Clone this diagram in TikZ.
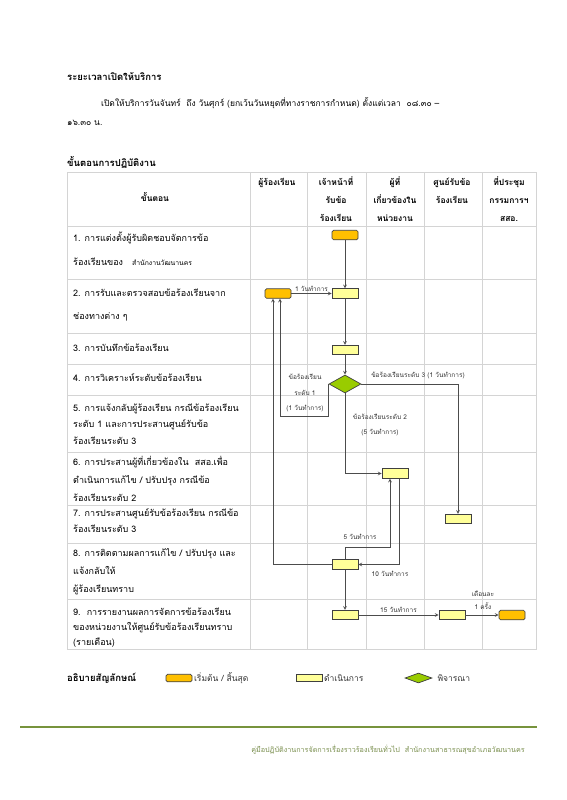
\documentclass[tikz,border=0pt]{standalone}
\usepackage{fontspec}
\setmainfont{Loma}[Script=Thai]
\usepackage{xcolor}
\usetikzlibrary{calc, shapes.geometric, positioning}

\definecolor{startfill}{HTML}{FFC000}
\definecolor{stepfill}{HTML}{FFFF99}
\definecolor{decfill}{HTML}{99CC00}
\definecolor{gridgray}{HTML}{D4D4D4}
\definecolor{footgreen}{HTML}{77933C}

\tikzset{
  startbox/.style={draw=black!75, fill=startfill, rounded corners=1.5pt, minimum width=26pt, minimum height=9.5pt, inner sep=0pt, line width=0.7pt},
  stepbox/.style={draw=black!75, fill=stepfill, minimum width=26pt, minimum height=9.5pt, inner sep=0pt, line width=0.7pt},
  decbox/.style={diamond, draw=black!75, fill=decfill, minimum width=32pt, minimum height=18pt, inner sep=0pt, aspect=1.8, line width=0.7pt},
  flow/.style={->, draw=black!70, line width=0.7pt},
  rowtext/.style={anchor=base west, align=left, inner sep=0pt, font=\fontsize{9}{17}\selectfont},
  headtext/.style={anchor=base, align=center, inner sep=0pt, font=\bfseries\fontsize{8.5}{18}\selectfont},
  daylabel/.style={inner sep=0pt, align=center, font=\fontsize{6.5}{9}\selectfont, text=black!80},
  legendtext/.style={anchor=west, inner sep=0pt, font=\fontsize{8.5}{10}\selectfont, text=black!80},
}

\begin{document}
\begin{tikzpicture}[x=1pt, y=-1pt, >=stealth]

    % =================================================================
    % 1. พื้นหน้ากระดาษ
    % =================================================================
    \fill[white] (0,0) rectangle (566,800);
    \useasboundingbox (0,0) rectangle (566,800);

    % =================================================================
    % 2. ข้อความส่วนบน
    % =================================================================
    \node[anchor=base west, inner sep=0pt, font=\bfseries\fontsize{9.5}{10}\selectfont] (ttl) at (67,81) {ระยะเวลาเปิดให้บริการ};
    \node[anchor=base west, inner sep=0pt, font=\fontsize{8.5}{10}\selectfont] (par1) at (101,106) {เปิดให้บริการวันจันทร์\ \ ถึง วันศุกร์ (ยกเว้นวันหยุดที่ทางราชการกำหนด) ตั้งแต่เวลา\ \ ๐๘.๓๐ –};
    \node[anchor=base west, inner sep=0pt, font=\fontsize{8.5}{10}\selectfont] (par2) at (67,125) {๑๖.๓๐ น.};
    \node[anchor=base west, inner sep=0pt, font=\bfseries\fontsize{9.5}{10}\selectfont] (ttl2) at (67,166) {ขั้นตอนการปฏิบัติงาน};

    % =================================================================
    % 3. ตาราง
    % =================================================================
    \draw[gridgray, line width=0.6pt] (67,172) rectangle (536,649);
    \draw[gridgray, line width=0.6pt]
        (67,226) -- (536,226) (67,279) -- (536,279) (67,333) -- (536,333)
        (67,364) -- (536,364) (67,395) -- (536,395) (67,452) -- (536,452)
        (67,505) -- (536,505) (67,543) -- (536,543) (67,599) -- (536,599);
    \draw[gridgray, line width=0.6pt]
        (250,172) -- (250,649) (307,172) -- (307,649) (366,172) -- (366,649)
        (424,172) -- (424,649) (482,172) -- (482,649);

    % หัวตาราง (จุดวางคือบรรทัดสุดท้าย)
    \node[headtext] (h1) at (155,201) {ขั้นตอน};
    \node[headtext] (h2) at (277,185) {ผู้ร้องเรียน};
    \node[headtext] (h3) at (336,221) {เจ้าหน้าที่\\รับข้อ\\ร้องเรียน};
    \node[headtext] (h4) at (395,221) {ผู้ที่\\เกี่ยวข้องใน\\หน่วยงาน};
    \node[headtext] (h5) at (452,203) {ศูนย์รับข้อ\\ร้องเรียน};
    \node[headtext] (h6) at (509,221) {ที่ประชุม\\กรรมการฯ\\สสอ.};

    % ขั้นตอน 1-9
    \node[rowtext, font=\fontsize{9}{24}\selectfont] (s1t) at (73,265) {1. การแต่งตั้งผู้รับผิดชอบจัดการข้อ\\ร้องเรียนของ\ \ \ {\fontsize{6.8}{7}\selectfont สำนักงานวัฒนานคร}};
    \node[rowtext, font=\fontsize{9}{23}\selectfont] (s2t) at (73,319) {2. การรับและตรวจสอบข้อร้องเรียนจาก\\ช่องทางต่าง ๆ};
    \node[rowtext] (s3t) at (73,351) {3. การบันทึกข้อร้องเรียน};
    \node[rowtext] (s4t) at (73,381) {4. การวิเคราะห์ระดับข้อร้องเรียน};
    \node[rowtext, font=\fontsize{9}{16.5}\selectfont] (s5t) at (73,444) {5. การแจ้งกลับผู้ร้องเรียน กรณีข้อร้องเรียน\\ระดับ 1 และการประสานศูนย์รับข้อ\\ร้องเรียนระดับ 3};
    \node[rowtext, font=\fontsize{9}{18}\selectfont] (s6t) at (73,501) {6. การประสานผู้ที่เกี่ยวข้องใน\ \ สสอ.เพื่อ\\ดำเนินการแก้ไข / ปรับปรุง กรณีข้อ\\ร้องเรียนระดับ 2};
    \node[rowtext, font=\fontsize{9}{16}\selectfont] (s7t) at (73,532) {7. การประสานศูนย์รับข้อร้องเรียน กรณีข้อ\\ร้องเรียนระดับ 3};
    \node[rowtext, font=\fontsize{9}{18}\selectfont] (s8t) at (73,592) {8. การติดตามผลการแก้ไข / ปรับปรุง และ\\แจ้งกลับให้\\ผู้ร้องเรียนทราบ};
    \node[rowtext, font=\fontsize{9}{15}\selectfont] (s9t) at (73,645) {9.\ \ การรายงานผลการจัดการข้อร้องเรียน\\ของหน่วยงานให้ศูนย์รับข้อร้องเรียนทราบ\\(รายเดือน)};

    % =================================================================
    % 4. ผังงาน
    % =================================================================
    \node[startbox] (st1) at (345,235) {};
    \node[startbox] (cp2) at (278,293.5) {};
    \node[stepbox] (of2) at (345,293.5) {};
    \node[stepbox] (of3) at (345,350) {};
    \node[decbox] (dc4) at (345,384) {};
    \node[stepbox] (rl6) at (395,473.5) {};
    \node[stepbox] (cn7) at (458,519) {};
    \node[stepbox] (of8) at (345,564.5) {};
    \node[stepbox] (of9) at (345,615) {};
    \node[stepbox] (cn9) at (452,615) {};
    \node[startbox] (mt9) at (512,615) {};

    \draw[flow] (st1) -- (of2);
    \draw[flow] (cp2) -- node[daylabel, above=2pt] (lb2) {1 วันทำการ} (of2);
    \draw[flow] (of2) -- (of3);
    \draw[flow] (of3) -- (dc4);

    % ระดับ 1 กลับไปผู้ร้องเรียน
    \draw[flow] (dc4.west) -- ++(0,32) -| ([xshift=2pt]cp2.south);
    \node[daylabel, font=\fontsize{6.5}{15.5}\selectfont] (lb1) at (305,393) {ข้อร้องเรียน\\ระดับ 1\\(1 วันทำการ)};

    % ระดับ 3 ไปศูนย์รับข้อร้องเรียน
    \draw[flow] (dc4.east) -| (cn7.north);
    \node[daylabel] (lb3) at (418,375) {ข้อร้องเรียนระดับ 3 (1 วันทำการ)};

    % ระดับ 2 ไปผู้ที่เกี่ยวข้อง
    \draw[flow] (dc4.south) |- (rl6.west);
    \node[daylabel, font=\fontsize{6.5}{15}\selectfont] (lb4) at (380,424.5) {ข้อร้องเรียนระดับ 2\\(5 วันทำการ)};

    % ติดตามผล
    \draw[flow] ([xshift=4pt]rl6.south) |- (of8.east);
    \node[daylabel] (lb5) at (390,574) {10 วันทำการ};
    \draw[flow] (of8.north) -- ++(0,-12) -| ([xshift=-5pt]rl6.south);
    \node[daylabel] (lb6) at (360,537) {5 วันทำการ};
    \draw[flow] (of8.west) -| ([xshift=-5pt]cp2.south);

    % รายงาน
    \draw[flow] (of8) -- (of9);
    \draw[flow] (of9) -- node[daylabel, above=2pt] (lb7) {15 วันทำการ} (cn9);
    \draw[flow] (cn9) -- (mt9);
    \node[daylabel, font=\fontsize{6.5}{13}\selectfont] (lb8) at (483,600) {เดือนละ\\1 ครั้ง};

    % =================================================================
    % 5. คำอธิบายสัญลักษณ์
    % =================================================================
    \node[anchor=base west, inner sep=0pt, font=\bfseries\fontsize{9.5}{10}\selectfont] (lgd) at (67,681) {อธิบายสัญลักษณ์};
    \node[startbox, minimum height=7.5pt] (lg1) at (179,678) {};
    \node[legendtext] (lg1t) at ([xshift=1.5pt]lg1.east) {เริ่มต้น / สิ้นสุด};
    \node[stepbox, minimum height=7.5pt] (lg2) at (309,678) {};
    \node[legendtext] (lg2t) at ([xshift=1.5pt]lg2.east) {ดำเนินการ};
    \node[decbox, minimum width=27pt, minimum height=10pt] (lg3) at (418.5,678) {};
    \node[legendtext] (lg3t) at ([xshift=5pt]lg3.east) {พิจารณา};

    % =================================================================
    % 6. ท้ายหน้า
    % =================================================================
    \draw[footgreen, line width=1.5pt] (20,727) -- (537,727);
    \node[anchor=base east, inner sep=0pt, font=\fontsize{7.2}{8}\selectfont, text=footgreen!75!gray] (ftr) at (525,752) {คู่มือปฏิบัติงานการจัดการเรื่องราวร้องเรียนทั่วไป\ \ สำนักงานสาธารณสุขอำเภอวัฒนานคร};

\end{tikzpicture}
\end{document}
